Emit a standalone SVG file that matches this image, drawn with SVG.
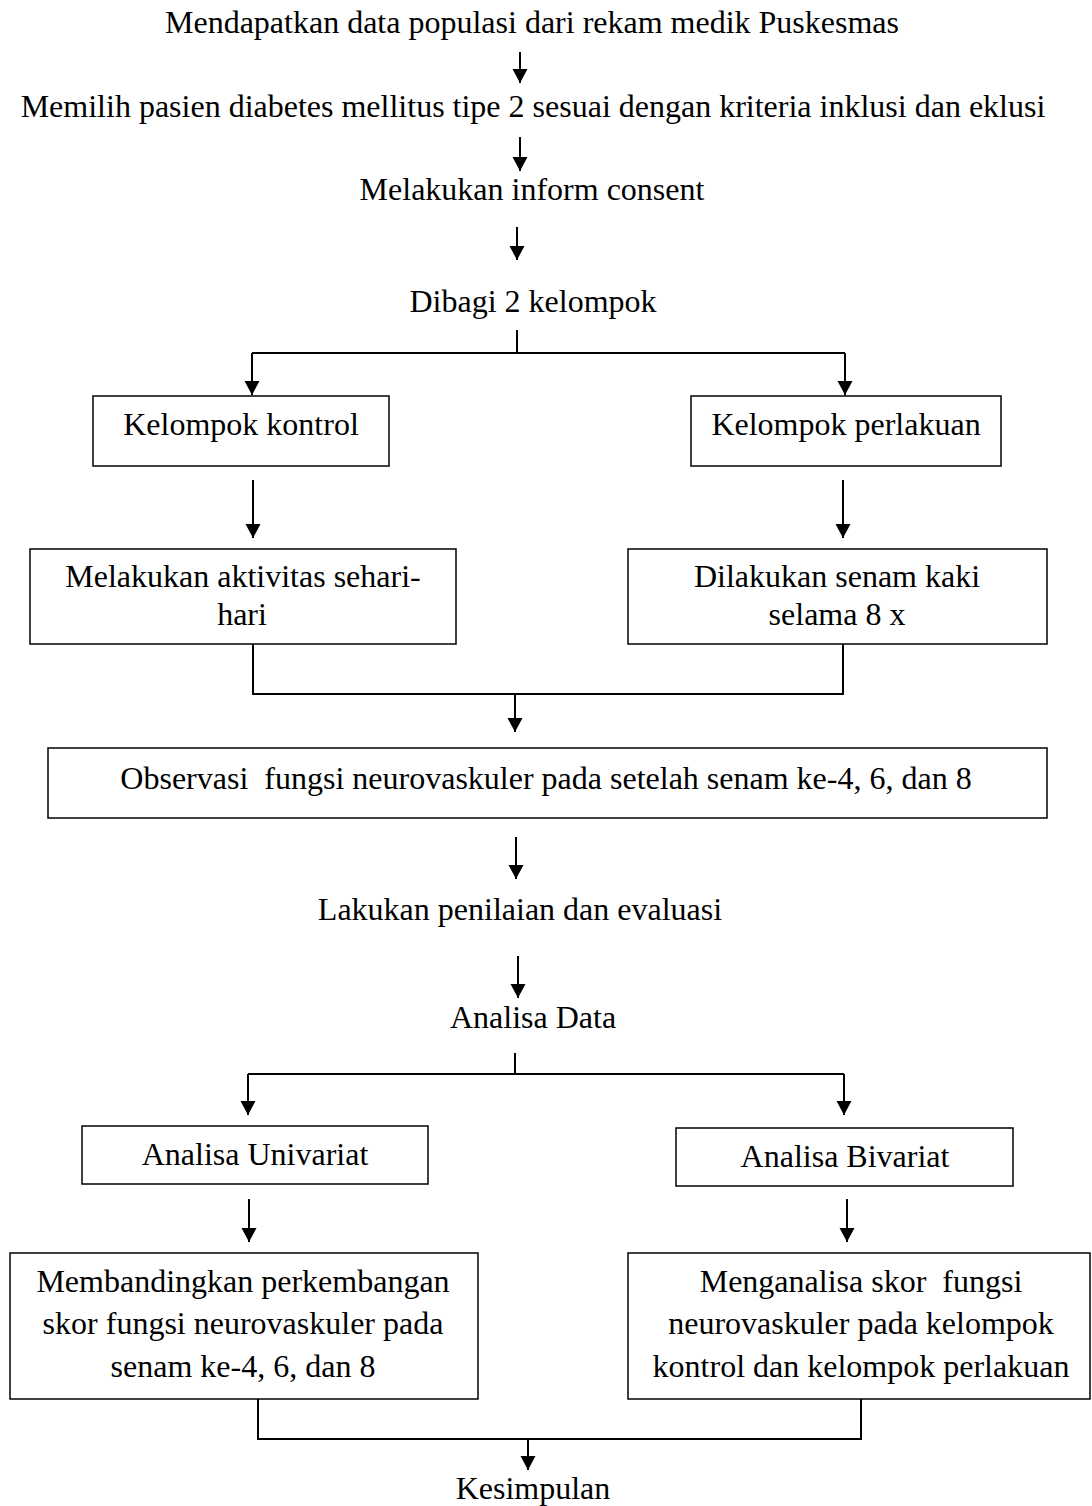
<svg xmlns="http://www.w3.org/2000/svg" width="1092" height="1506" viewBox="0 0 1092 1506">
<style>
text{font-family:"Liberation Serif","Times New Roman",serif;font-size:32px;fill:#000;text-anchor:middle;white-space:pre}
.box{fill:#fff;stroke:#000;stroke-width:1.5}
.c{fill:none;stroke:#000;stroke-width:2}
.a{fill:none;stroke:#000;stroke-width:2;marker-end:url(#ah)}
</style>
<defs>
<marker id="ah" markerUnits="userSpaceOnUse" markerWidth="16" markerHeight="16" refX="14" refY="7.5" orient="auto"><path d="M0,0 L14,7.5 L0,15 z" fill="#000"/></marker>
</defs>
<rect width="1092" height="1506" fill="#fff"/>
<g id="connectors">
<line class="a" x1="520" y1="52" x2="520" y2="83"/>
<line class="a" x1="520" y1="137" x2="520" y2="171"/>
<line class="a" x1="517" y1="227" x2="517" y2="260"/>
<path class="c" d="M517,330 V353 M252,353 H845"/>
<line class="a" x1="252" y1="353" x2="252" y2="395"/>
<line class="a" x1="845" y1="353" x2="845" y2="395"/>
<line class="a" x1="253" y1="480" x2="253" y2="538"/>
<line class="a" x1="843" y1="480" x2="843" y2="538"/>
<path class="c" d="M253,644 V694 H843 V644"/>
<line class="a" x1="515" y1="694" x2="515" y2="732"/>
<line class="a" x1="516" y1="837" x2="516" y2="879"/>
<line class="a" x1="518" y1="956" x2="518" y2="998"/>
<path class="c" d="M515,1053 V1074 M248,1074 H844"/>
<line class="a" x1="248" y1="1074" x2="248" y2="1115"/>
<line class="a" x1="844" y1="1074" x2="844" y2="1115"/>
<line class="a" x1="249" y1="1199" x2="249" y2="1242"/>
<line class="a" x1="847" y1="1199" x2="847" y2="1242"/>
<path class="c" d="M258,1399 V1439 H861 V1399"/>
<line class="a" x1="528" y1="1439" x2="528" y2="1470"/>
</g>
<g id="n1"><text x="532" y="33">Mendapatkan data populasi dari rekam medik Puskesmas</text></g>
<g id="n2"><text x="533" y="117">Memilih pasien diabetes mellitus tipe 2 sesuai dengan kriteria inklusi dan eklusi</text></g>
<g id="n3"><text x="532" y="200">Melakukan inform consent</text></g>
<g id="n4"><text x="533" y="312">Dibagi 2 kelompok</text></g>
<g id="n5"><rect class="box" x="93" y="396" width="296" height="70"/><text x="241" y="435">Kelompok kontrol</text></g>
<g id="n6"><rect class="box" x="691" y="396" width="310" height="70"/><text x="846" y="435">Kelompok perlakuan</text></g>
<g id="n7"><rect class="box" x="30" y="549" width="426" height="95"/><text x="243" y="587">Melakukan aktivitas sehari-</text><text x="242" y="625">hari</text></g>
<g id="n8"><rect class="box" x="628" y="549" width="419" height="95"/><text x="837" y="587">Dilakukan senam kaki</text><text x="837" y="625">selama 8 x</text></g>
<g id="n9"><rect class="box" x="48" y="748" width="999" height="70"/><text x="546" y="789">Observasi  fungsi neurovaskuler pada setelah senam ke-4, 6, dan 8</text></g>
<g id="n10"><text x="520" y="920">Lakukan penilaian dan evaluasi</text></g>
<g id="n11"><text x="533" y="1028">Analisa Data</text></g>
<g id="n12"><rect class="box" x="82" y="1126" width="346" height="58"/><text x="255" y="1165">Analisa Univariat</text></g>
<g id="n13"><rect class="box" x="676" y="1128" width="337" height="58"/><text x="845" y="1167">Analisa Bivariat</text></g>
<g id="n14"><rect class="box" x="10" y="1253" width="468" height="146"/><text x="243" y="1292">Membandingkan perkembangan</text><text x="243" y="1334">skor fungsi neurovaskuler pada</text><text x="243" y="1377">senam ke-4, 6, dan 8</text></g>
<g id="n15"><rect class="box" x="628" y="1253" width="462" height="146"/><text x="861" y="1292">Menganalisa skor  fungsi</text><text x="861" y="1334">neurovaskuler pada kelompok</text><text x="861" y="1377">kontrol dan kelompok perlakuan</text></g>
<g id="n16"><text x="533" y="1499">Kesimpulan</text></g>
</svg>
